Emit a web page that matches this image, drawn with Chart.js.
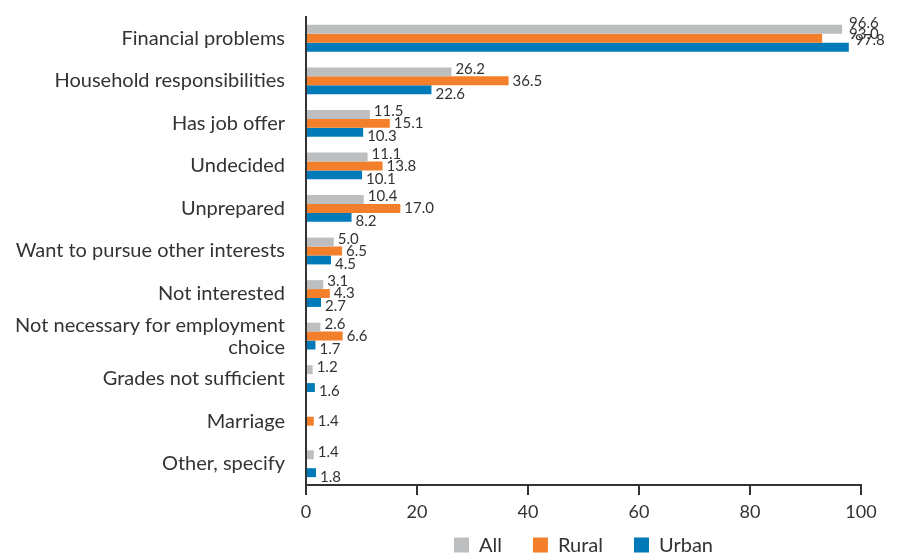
<!DOCTYPE html>
<html>
<head>
<meta charset="utf-8">
<script src="https://cdn.jsdelivr.net/npm/chart.js@4/dist/chart.umd.min.js"></script>
<style>
  body { margin: 0; background: #fff; }
  #wrap { width: 899px; height: 557px; }
</style>
</head>
<body>
<div id="wrap"><canvas id="myChart"></canvas></div>
<script>
const categories = [
  "Financial problems",
  "Household responsibilities",
  "Has job offer",
  "Undecided",
  "Unprepared",
  "Want to pursue other interests",
  "Not interested",
  ["Not necessary for employment", "choice"],
  "Grades not sufficient",
  "Marriage",
  "Other, specify",
];

const allValues   = [96.6, 26.2, 11.5, 11.1, 10.4, 5.0, 3.1, 2.6, 1.2, null, 1.4];
const ruralValues = [93.0, 36.5, 15.1, 13.8, 17.0, 6.5, 4.3, 6.6, null, 1.4, null];
const urbanValues = [97.8, 22.6, 10.3, 10.1, 8.2, 4.5, 2.7, 1.7, 1.6, null, 1.8];

const xTicks = [0, 20, 40, 60, 80, 100];

const FONT = "Lato, 'Open Sans', sans-serif";
const TEXT = "#333333";

// value labels at the end of each bar
const valueLabels = {
  id: "valueLabels",
  afterDatasetsDraw(chart) {
    const ctx = chart.ctx;
    ctx.save();
    ctx.font = "15px " + FONT;
    ctx.fillStyle = TEXT;
    ctx.textBaseline = "middle";
    ctx.textAlign = "left";
    const dy = [-3, 0, 4];
    chart.data.datasets.forEach((ds, di) => {
      const meta = chart.getDatasetMeta(di);
      meta.data.forEach((bar, i) => {
        const v = ds.data[i];
        if (v === null) return;
        let x = bar.x + 4;
        let y = bar.y + dy[di];
        if (i === 0) {
          // crowded top row
          x = chart.chartArea.right - 12 + [0, 0, 6][di];
          y = bar.y + [-6, -4, -7][di];
        }
        ctx.fillText(v.toFixed(1), x, y);
      });
    });
    ctx.restore();
  },
};

// legend centred under the plot area
const bottomLegend = {
  id: "bottomLegend",
  afterDraw(chart) {
    const ctx = chart.ctx;
    ctx.save();
    ctx.font = "20px " + FONT;
    ctx.textBaseline = "middle";
    const box = 15, gap = 10, space = 31;
    const items = chart.data.datasets.map(ds => ({
      label: ds.label,
      color: ds.backgroundColor,
      w: box + gap + ctx.measureText(ds.label).width,
    }));
    const total = items.reduce((s, it) => s + it.w, 0) + space * (items.length - 1);
    let x = (chart.chartArea.left + chart.chartArea.right) / 2 - total / 2;
    const y = 545;
    items.forEach(it => {
      ctx.fillStyle = it.color;
      ctx.fillRect(x, y - box / 2, box, box);
      ctx.fillStyle = TEXT;
      ctx.fillText(it.label, x + box + gap, y + 1);
      x += it.w + space;
    });
    ctx.restore();
  },
};

const data = {
  labels: categories,
  datasets: [
    { label: "All", data: allValues, backgroundColor: "#BCBEC0" },
    { label: "Rural", data: ruralValues, backgroundColor: "#F47F2A" },
    { label: "Urban", data: urbanValues, backgroundColor: "#007AB8" },
  ],
};

const config = {
  type: "bar",
  data: data,
  plugins: [valueLabels, bottomLegend],
  options: {
    indexAxis: "y",
    responsive: true,
    maintainAspectRatio: false,
    animation: false,
    datasets: {
      bar: { categoryPercentage: 0.63, barPercentage: 1.0 },
    },
    layout: {
      padding: { top: 17, right: 38, bottom: 37, left: 0 },
    },
    plugins: {
      legend: { display: false },
      tooltip: { enabled: false },
    },
    scales: {
      y: {
        afterFit(scale) {
          scale.width = 306;
          scale.paddingTop = 0;
          scale.paddingBottom = 0;
        },
        grid: { display: false, drawTicks: false },
        border: { display: true, color: "#333", width: 2 },
        ticks: {
          autoSkip: false,
          color: TEXT,
          font: { family: FONT, size: 20, lineHeight: 1.1 },
          padding: 21,
        },
      },
      x: {
        min: 0,
        max: 100,
        afterFit(scale) { scale.height = 35; },
        afterBuildTicks(scale) { scale.ticks = xTicks.map(v => ({ value: v })); },
        grid: { drawOnChartArea: false, drawTicks: true, tickLength: 10, color: "#333", lineWidth: 2 },
        border: { display: true, color: "#333", width: 2 },
        ticks: {
          color: TEXT,
          font: { family: FONT, size: 18 },
          padding: 6,
        },
      },
    },
  },
};

const myChart = new Chart(document.getElementById("myChart").getContext("2d"), config);
</script>
</body>
</html>
